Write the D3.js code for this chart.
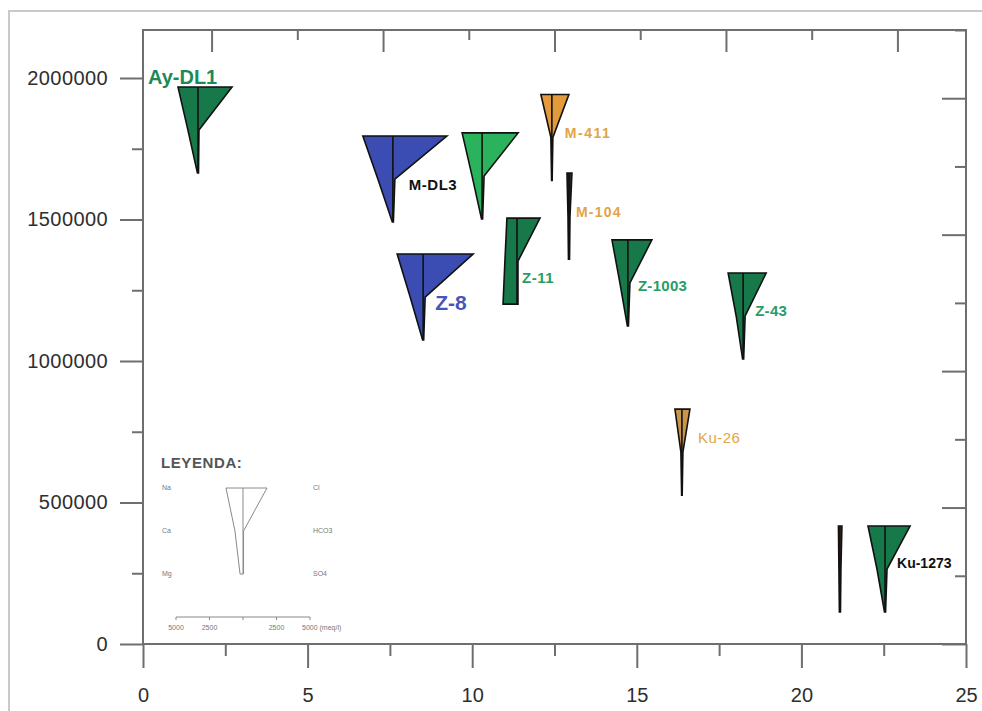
<!DOCTYPE html>
<html>
<head>
<meta charset="utf-8">
<script src="https://cdn.jsdelivr.net/npm/d3@7"></script>
<style>
  html, body { margin: 0; padding: 0; background: #fff; }
  svg { display: block; font-family: "Liberation Sans", Arial, sans-serif; }
</style>
</head>
<body>
<svg id="chart" width="982" height="711"></svg>
<script>
// ---- Well locations (x, y) and major ion concentrations (meq/l) ----
const wells  = ["Ay-DL1", "M-DL3", "", "M-411", "M-104", "Z-11", "Z-8", "Z-1003", "Z-43", "Ku-26", "", "Ku-1273"];
const posX   = [1.67, 7.59, 10.30, 12.42, 12.94, 11.36, 8.51, 14.73, 18.23, 16.37, 21.17, 22.54];
const posY   = [1816000, 1643000, 1654000, 1790000, 1512000, 1353000, 1226000, 1276000, 1159000, 678000, 265000, 265000];
const na     = [1490, 2240, 1490, 820, 150, 750, 1940, 1190, 1120, 520, 110, 1270];
const ca     = [750, 1120, 750, 75, 75, 900, 970, 600, 520, 75, 75, 600];
const mg     = [40, 40, 40, 20, 40, 1040, 40, 40, 40, 20, 40, 40];
const cl     = [2540, 4030, 2690, 1270, 220, 1720, 3730, 1790, 1720, 600, 150, 1870];
const hco3   = [75, 150, 150, 75, 75, 75, 150, 150, 150, 75, 75, 150];
const so4    = [40, 40, 40, 20, 40, 75, 40, 40, 40, 20, 40, 40];
const family = ["dark", "blue", "light", "orange", "black", "dark", "blue", "dark", "dark", "tan", "brown", "dark"];

// Legend: reference diagram and scale bar
const legendIons   = { left: ["Na", "Ca", "Mg"], right: ["Cl", "HCO3", "SO4"] };
const legendValues = { na: 1270, ca: 600, mg: 220, cl: 1790, hco3: 40, so4: 40 };
const scaleTicks      = [-5000, -2500, 0, 2500, 5000];
const scaleTickLabels = ["5000", "2500", "", "2500", "5000 (meq/l)"];

// Axis ticks
const xMajor = [0, 5, 10, 15, 20, 25];
const xMinor = [2.5, 7.5, 12.5, 17.5, 22.5];
const yMajor = [0, 500000, 1000000, 1500000, 2000000];
const yMinor = [250000, 750000, 1250000, 1750000];
const topMajor = [0, 1, 2, 3, 4];
const topMinor = [0.5, 1.5, 2.5, 3.5];
const rightMajor = [0, 1, 2, 3, 4];
const rightMinor = [0.5, 1.5, 2.5, 3.5, 4.5];

// ---- Styles ----
const fillColor = {
  dark: "#17784a", blue: "#3b4db2", light: "#2bb25c", orange: "#e39a3b",
  black: "#2a2a2a", tan: "#c99649", brown: "#7c3b24"
};
const labelStyle = {
  "Ay-DL1":  { color: "#1d8a56", size: 20, weight: "bold", dx: -50, dy: -53, ls: 0 },
  "M-DL3":   { color: "#111111", size: 15, weight: "bold", dx: 16, dy: 6, ls: 0.5 },
  "M-411":   { color: "#e2a446", size: 14, weight: "bold", dx: 13, dy: -4, ls: 1.5 },
  "M-104":   { color: "#e2a446", size: 14, weight: "bold", dx: 7, dy: -4, ls: 1.2 },
  "Z-11":    { color: "#2a9c68", size: 15, weight: "bold", dx: 5, dy: 17, ls: 0.5 },
  "Z-8":     { color: "#4656b8", size: 21, weight: "bold", dx: 12, dy: 5, ls: 0 },
  "Z-1003":  { color: "#2a9c68", size: 15, weight: "bold", dx: 10, dy: 3, ls: 0.3 },
  "Z-43":    { color: "#2a9c68", size: 15, weight: "bold", dx: 12, dy: -5, ls: 0.3 },
  "Ku-26":   { color: "#e2a548", size: 15, weight: "normal", dx: 16, dy: -15, ls: 0.5 },
  "Ku-1273": { color: "#111111", size: 14, weight: "bold", dx: 12, dy: -6, ls: 0 }
};

const frame = { left: 143, right: 966, top: 30, bottom: 644 };
const axisColor = "#6e6e6e";

const svg = d3.select("#chart");

// Outer picture border
svg.append("path")
  .attr("d", `M9,711 L9,11 L982,11`)
  .attr("fill", "none").attr("stroke", "#c9c9c9").attr("stroke-width", 2);

// ---- Scales ----
const x = d3.scaleLinear().domain([0, 25]).range([frame.left, frame.right]);
const y = d3.scaleLinear().domain([0, 2000000]).range([frame.bottom, 78]);
const xTop = d3.scaleLinear().domain([-0.4, 4.4]).range([frame.left, frame.right]);
const yRight = d3.scaleLinear().domain([0, 4.5]).range([frame.bottom, frame.top]);
const w = d3.scaleLinear().domain([0, 5000]).range([0, 67]);   // meq/l -> px
const halfH = 43;

// ---- Frame ----
svg.append("rect")
  .attr("x", frame.left).attr("y", frame.top)
  .attr("width", frame.right - frame.left).attr("height", frame.bottom - frame.top)
  .attr("fill", "none").attr("stroke", axisColor).attr("stroke-width", 2);

function styleAxis(g) {
  g.select(".domain").remove();
  g.selectAll(".tick line").attr("stroke", axisColor).attr("stroke-width", 2);
  g.selectAll(".tick text").attr("fill", "#2e2e2e").attr("font-size", 20)
    .attr("font-family", "'Liberation Sans', Arial, sans-serif");
}

// Bottom axis
svg.append("g").attr("transform", `translate(0,${frame.bottom})`)
  .call(d3.axisBottom(x).tickValues(xMajor).tickSize(24).tickPadding(20).tickFormat(d3.format("d")))
  .call(styleAxis);
svg.append("g").attr("transform", `translate(0,${frame.bottom})`)
  .call(d3.axisBottom(x).tickValues(xMinor).tickSize(12).tickFormat(""))
  .call(styleAxis);

// Left axis
svg.append("g").attr("transform", `translate(${frame.left},0)`)
  .call(d3.axisLeft(y).tickValues(yMajor).tickSize(23).tickPadding(12).tickFormat(d3.format("d")))
  .call(styleAxis);
svg.append("g").attr("transform", `translate(${frame.left},0)`)
  .call(d3.axisLeft(y).tickValues(yMinor).tickSize(11).tickFormat(""))
  .call(styleAxis);
svg.selectAll("g").filter(function () { return this.getAttribute("transform") === `translate(${frame.left},0)`; })
  .selectAll(".tick text").attr("letter-spacing", 0.4);

// Top and right inner ticks (secondary grid reference)
svg.append("g").attr("transform", `translate(0,${frame.top})`)
  .call(d3.axisBottom(xTop).tickValues(topMajor).tickSize(22).tickFormat(""))
  .call(styleAxis);
svg.append("g").attr("transform", `translate(0,${frame.top})`)
  .call(d3.axisBottom(xTop).tickValues(topMinor).tickSize(10).tickFormat(""))
  .call(styleAxis);
svg.append("g").attr("transform", `translate(${frame.right},0)`)
  .call(d3.axisLeft(yRight).tickValues(rightMajor).tickSize(24).tickFormat(""))
  .call(styleAxis);
svg.append("g").attr("transform", `translate(${frame.right},0)`)
  .call(d3.axisLeft(yRight).tickValues(rightMinor).tickSize(11).tickFormat(""))
  .call(styleAxis);

// ---- Stiff diagram shape ----
function stiffPoints(v) {
  return [
    [-w(v.na), -halfH], [w(v.cl), -halfH], [w(v.hco3), 0],
    [w(v.so4), halfH], [-w(v.mg), halfH], [-w(v.ca), 0]
  ];
}

const rows = wells.map((name, i) => ({
  name, x: posX[i], y: posY[i], family: family[i],
  na: na[i], ca: ca[i], mg: mg[i], cl: cl[i], hco3: hco3[i], so4: so4[i]
}));

const diag = svg.append("g").selectAll("g.stiff").data(rows).join("g")
  .attr("class", "stiff")
  .attr("transform", d => `translate(${x(d.x)},${y(d.y)})`);

diag.append("polygon")
  .attr("points", d => stiffPoints(d).join(" "))
  .attr("fill", d => fillColor[d.family])
  .attr("stroke", "#111").attr("stroke-width", 1.6).attr("stroke-linejoin", "miter");

diag.append("line")
  .attr("x1", 0).attr("x2", 0).attr("y1", -halfH).attr("y2", halfH)
  .attr("stroke", "#111").attr("stroke-width", 1.6);

diag.filter(d => d.name).append("text")
  .attr("x", d => labelStyle[d.name].dx)
  .attr("y", d => labelStyle[d.name].dy)
  .attr("dy", "0.36em")
  .attr("fill", d => labelStyle[d.name].color)
  .attr("font-size", d => labelStyle[d.name].size)
  .attr("font-weight", d => labelStyle[d.name].weight)
  .attr("letter-spacing", d => labelStyle[d.name].ls)
  .text(d => d.name);

// ---- Legend ----
const legend = svg.append("g").attr("transform", "translate(243,531)");

svg.append("text")
  .attr("x", 161).attr("y", 468)
  .attr("fill", "#555").attr("font-size", 15).attr("font-weight", "bold")
  .attr("letter-spacing", 0.6)
  .text("LEYENDA:");

legend.append("polygon")
  .attr("points", stiffPoints(legendValues).join(" "))
  .attr("fill", "#fff").attr("stroke", "#8a8a8a").attr("stroke-width", 1);
legend.append("line")
  .attr("x1", 0).attr("x2", 0).attr("y1", -halfH).attr("y2", halfH)
  .attr("stroke", "#8a8a8a").attr("stroke-width", 1);

[-halfH, 0, halfH].forEach((dy, k) => {
  legend.append("text").attr("x", -81).attr("y", dy).attr("dy", "0.35em")
    .attr("fill", "#777").attr("font-size", 7).text(legendIons.left[k]);
  legend.append("text").attr("x", 70).attr("y", dy).attr("dy", "0.35em")
    .attr("fill", "#777").attr("font-size", 7).text(legendIons.right[k]);
});

// Scale bar in meq/l
const bar = legend.append("g").attr("transform", "translate(0,86)");
const wSigned = v => (v < 0 ? -w(-v) : w(v));
bar.append("line")
  .attr("x1", wSigned(scaleTicks[0])).attr("x2", wSigned(scaleTicks[scaleTicks.length - 1]))
  .attr("y1", 0).attr("y2", 0).attr("stroke", "#888").attr("stroke-width", 1);
bar.selectAll("line.tk").data(scaleTicks).join("line").attr("class", "tk")
  .attr("x1", d => wSigned(d)).attr("x2", d => wSigned(d))
  .attr("y1", 0).attr("y2", 3).attr("stroke", "#888").attr("stroke-width", 1);
bar.selectAll("text").data(scaleTicks).join("text")
  .attr("x", (d, i) => i === scaleTicks.length - 1 ? wSigned(d) - 8 : wSigned(d))
  .attr("y", 13)
  .attr("text-anchor", (d, i) => i === scaleTicks.length - 1 ? "start" : "middle")
  .attr("fill", "#777").attr("font-size", 7)
  .text((d, i) => scaleTickLabels[i]);
</script>
</body>
</html>
